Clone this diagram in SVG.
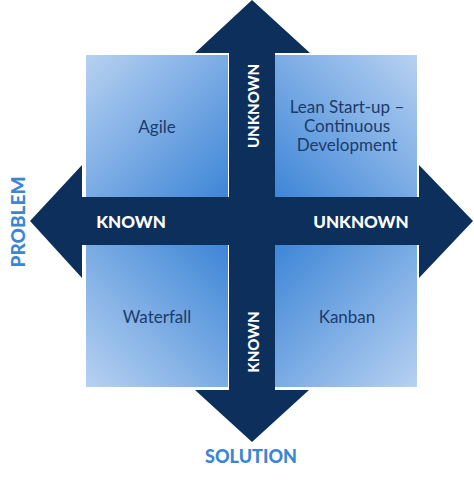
<svg xmlns="http://www.w3.org/2000/svg" width="474" height="480" viewBox="0 0 474 480">
<defs>
<linearGradient id="gTL" x1="0" y1="0" x2="1" y2="1"><stop offset="0" stop-color="#b7d1f1"/><stop offset="1" stop-color="#3e86d7"/></linearGradient>
<linearGradient id="gTR" x1="1" y1="0" x2="0" y2="1"><stop offset="0" stop-color="#b7d1f1"/><stop offset="1" stop-color="#3e86d7"/></linearGradient>
<linearGradient id="gBL" x1="0" y1="1" x2="1" y2="0"><stop offset="0" stop-color="#b7d1f1"/><stop offset="1" stop-color="#3e86d7"/></linearGradient>
<linearGradient id="gBR" x1="1" y1="1" x2="0" y2="0"><stop offset="0" stop-color="#b7d1f1"/><stop offset="1" stop-color="#3e86d7"/></linearGradient>
<style>
.q{font-family:Lato,"Liberation Sans",sans-serif;font-weight:400;font-size:17px;fill:#1b3b6b;text-anchor:middle}
.ax{font-family:Lato,"Liberation Sans",sans-serif;font-weight:900;font-size:17px;fill:#ffffff;text-anchor:middle}
.axv{font-family:Lato,"Liberation Sans",sans-serif;font-weight:900;font-size:15px;fill:#ffffff;text-anchor:middle}
.lbl{font-family:Lato,"Liberation Sans",sans-serif;font-weight:900;fill:#3b86d4;text-anchor:middle}
.arrow{fill:#0c2f5c}
</style>
</defs>
<g id="quadrant-agile"><rect x="86" y="55" width="142" height="142" fill="url(#gTL)"/><text class="q" x="157" y="133">Agile</text></g>
<g id="quadrant-lean"><rect x="275" y="55" width="142" height="142" fill="url(#gTR)"/><text class="q" x="347" y="113">Lean Start-up –</text><text class="q" x="347" y="132">Continuous</text><text class="q" x="347" y="151">Development</text></g>
<g id="quadrant-waterfall"><rect x="86" y="245" width="142" height="142" fill="url(#gBL)"/><text class="q" x="157" y="323">Waterfall</text></g>
<g id="quadrant-kanban"><rect x="275" y="245" width="142" height="142" fill="url(#gBR)"/><text class="q" x="347" y="323">Kanban</text></g>
<g id="connectors">
<polygon class="arrow" points="252,0 310,53 275,53 275,390 309,390 252,442 195,390 229,390 229,53 195,53"/>
<polygon class="arrow" points="30,221 82,165 82,197 419,197 419,165 473,221 419,278 419,245 82,245 82,278"/>
<text class="ax" x="131" y="228">KNOWN</text>
<text class="ax" x="361" y="228">UNKNOWN</text>
<text class="axv" transform="translate(259,106) rotate(-90)" x="0" y="0">UNKNOWN</text>
<text class="axv" transform="translate(259,342) rotate(-90)" x="0" y="0">KNOWN</text>
</g>
<g id="label-problem"><text class="lbl" font-size="19" transform="translate(25,222) rotate(-90)">PROBLEM</text></g>
<g id="label-solution"><text class="lbl" font-size="18" x="251" y="463">SOLUTION</text></g>
</svg>
